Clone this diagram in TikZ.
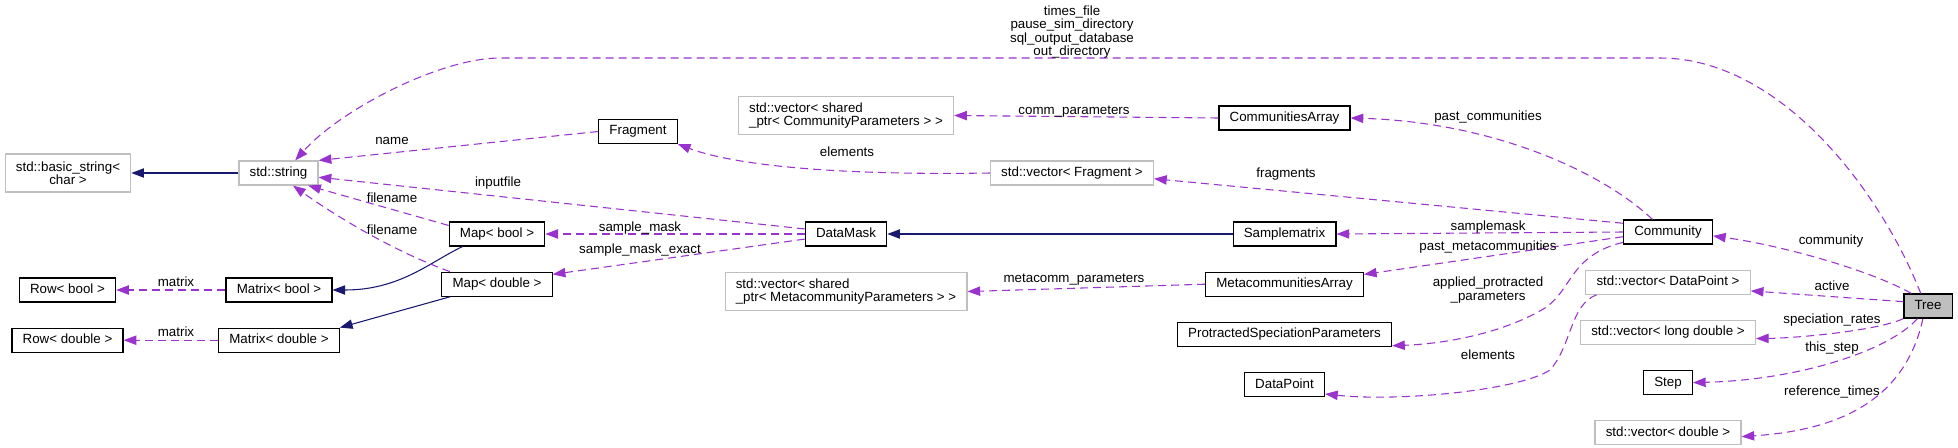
\documentclass[tikz,border=0pt]{standalone}
\usepackage{fontspec}
\setmainfont{Liberation Sans}
\usetikzlibrary{arrows.meta,positioning}
\definecolor{member}{HTML}{9A32CD}
\definecolor{base}{HTML}{191970}
\definecolor{outer}{HTML}{BFBFBF}

\begin{document}
\begin{tikzpicture}[x=0.75pt, y=-0.75pt, font=\fontsize{10pt}{10pt}\selectfont,
  box/.style={draw, line width=0.9pt, inner xsep=8pt, inner ysep=2pt, minimum height=18pt},
  cls/.style={box, text height=7.2pt, text depth=2pt},
  extcls/.style={cls, draw=outer},
  ext2/.style={box, draw=outer, minimum height=28.5pt},
  uses/.style={draw=member, line width=0.8pt, dash pattern=on 6pt off 3.75pt,
    -{Triangle[length=9.5pt,width=7pt]}},
  derives/.style={draw=base, line width=0.8pt, -{Triangle[length=9.5pt,width=7pt]}},
  lbl/.style={inner sep=0pt, text height=7pt, text depth=2pt}]
  \useasboundingbox (0,0) rectangle (1958,447);

  % left part
  \node[ext2, align=center] (bstr) at (68,173) {std::basic\_string<\\char >};
  \node[extcls] (str) at (278.5,173) {std::string};
  \node[cls] (rowb) at (67.5,290) {Row< bool >};
  \node[cls, below=18.75pt of rowb] (rowd) {Row< double >};
  \node[cls] (matb) at (279,290) {Matrix< bool >};
  \node[cls, below=18.75pt of matb] (matd) {Matrix< double >};
  \node[cls] (mapb) at (497,234) {Map< bool >};
  \node[cls, below=18.75pt of mapb] (mapd) {Map< double >};
  \node[cls] (frag) at (638,131.5) {Fragment};

  % middle part
  \node[ext2, align=left] (vcomm) at (846,115.5) {std::vector< shared\\\_ptr< CommunityParameters > >};
  \node[cls] (dmask) at (846,234) {DataMask};
  \node[ext2, align=left, below=19pt of dmask] (vmeta) {std::vector< shared\\\_ptr< MetacommunityParameters > >};
  \node[extcls] (vfrag) at (1072,173) {std::vector< Fragment >};
  \node[cls] (carr) at (1284.5,118) {CommunitiesArray};
  \node[cls] (smat) at (1284.5,234) {Samplematrix};
  \node[cls, below=18.75pt of smat] (marr) {MetacommunitiesArray};
  \node[cls, below=18.75pt of marr] (psp) {ProtractedSpeciationParameters};
  \node[cls, below=18.75pt of psp] (dpt) {DataPoint};

  % right part
  \node[cls] (comm) at (1668,232) {Community};
  \node[extcls, below=18.75pt of comm] (vdpt) {std::vector< DataPoint >};
  \node[extcls, below=18.75pt of vdpt] (vld) {std::vector< long double >};
  \node[cls, below=18.75pt of vld] (stp) {Step};
  \node[extcls, below=18.75pt of stp] (vdbl) {std::vector< double >};
  \node[cls, fill=outer] (tree) at (1928,306) {Tree};

  % inheritance
  \draw[derives] (str.west) -- (bstr.east);
  \draw[derives] (mapb.200) .. controls (430,262) and (400,290) .. (matb.east);
  \draw[derives] (mapd.195) -- (matd.north east);
  \draw[derives] (smat.west) -- (dmask.east);

  % members
  \draw[uses] (tree.120) .. controls (1880,190) and (1780,58) .. (1660,58) -- (500,58)
    .. controls (440,58) and (340,110) .. (str.37);
  \draw[uses] (frag.west) -- (str.north east);
  \draw[uses] (dmask.173) -- (str.-6);
  \draw[uses] (mapb.170) -- (str.-23);
  \draw[uses] (mapd.165) .. controls (390,250) and (330,212) .. (str.-41);
  \draw[uses] (matb.west) -- (rowb.east);
  \draw[uses] (matd.west) -- (rowd.east);
  \draw[uses] (dmask.west) -- (mapb.east);
  \draw[uses] (dmask.187) -- (mapd.10);
  \draw[uses] (vfrag.west) .. controls (800,176) and (720,160) .. (frag.south east);
  \draw[uses] (carr.west) -- (vcomm.east);
  \draw[uses] (marr.west) -- (vmeta.east);
  \draw[uses] (comm.141) .. controls (1600,170) and (1490,122) .. (carr.east);
  \draw[uses] (comm.169) -- (vfrag.-4);
  \draw[uses] (comm.west) -- (smat.east);
  \draw[uses] (comm.186) -- (marr.7);
  \draw[uses] (comm.193) .. controls (1570,255) and (1572,290) .. (1545,308)
    .. controls (1500,335) and (1440,344) .. (psp.-6);
  \draw[uses] (vdpt.190) .. controls (1570,305) and (1572,345) .. (1550,370)
    .. controls (1520,390) and (1400,402) .. (dpt.-13);
  \draw[uses] (tree.143) .. controls (1870,270) and (1780,245) .. (comm.-5);
  \draw[uses] (tree.170) -- (vdpt.-6);
  \draw[uses] (tree.south west) .. controls (1880,330) and (1800,338) .. (vld.-4);
  \draw[uses] (tree.230) .. controls (1890,350) and (1800,380) .. (stp.east);
  \draw[uses] (tree.248) .. controls (1905,400) and (1840,430) .. (vdbl.-3);

  % labels
  \node[inner sep=0pt, align=center] (lfiles) at (1072,32)
    {times\_file\\pause\_sim\_directory\\sql\_output\_database\\out\_directory};
  \node[lbl] (lname) at (392,141) {name};
  \node[lbl] (linput) at (498,183) {inputfile};
  \node[lbl] (lfnb) at (392,199) {filename};
  \node[lbl] (lfnd) at (392,231) {filename};
  \node[lbl] (lmatb) at (176,283) {matrix};
  \node[lbl] (lmatd) at (176,333) {matrix};
  \node[lbl] (lsmask) at (640,228) {sample\_mask};
  \node[lbl] (lsmaskx) at (640,250) {sample\_mask\_exact};
  \node[lbl] (lelem) at (847,153) {elements};
  \node[lbl] (lcomm) at (1074,111) {comm\_parameters};
  \node[lbl] (lmeta) at (1074,279) {metacomm\_parameters};
  \node[lbl] (lfrags) at (1286,174) {fragments};
  \node[lbl] (lpast) at (1488,117) {past\_communities};
  \node[lbl] (lsample) at (1488,227) {samplemask};
  \node[lbl] (lpastm) at (1488,247) {past\_metacommunities};
  \node[inner sep=0pt, align=center] (lappl) at (1488,290) {applied\_protracted\\\_parameters};
  \node[lbl] (lelemd) at (1488,356) {elements};
  \node[lbl] (lcommunity) at (1831,241) {community};
  \node[lbl] (lactive) at (1832,287) {active};
  \node[lbl] (lrates) at (1832,320) {speciation\_rates};
  \node[lbl] (lstep) at (1832,348) {this\_step};
  \node[lbl] (lref) at (1832,392) {reference\_times};
\end{tikzpicture}
\end{document}
